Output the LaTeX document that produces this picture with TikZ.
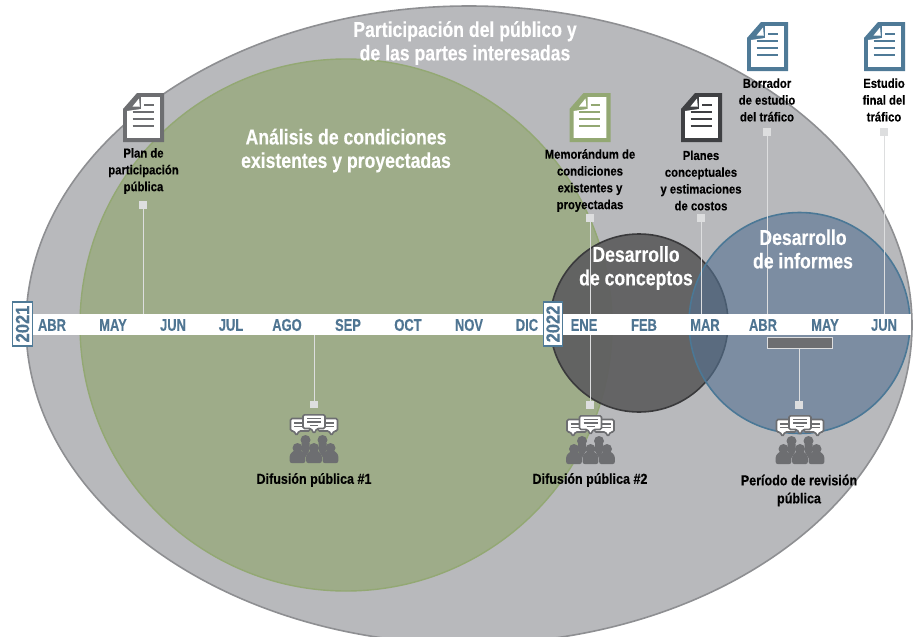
\documentclass[tikz,border=0pt]{standalone}
\usepackage{fontspec}
\setmainfont{Liberation Sans}
\newfontfamily\lblfont[FakeStretch=0.87,FakeBold=0.25]{Liberation Sans Bold}
\newfontfamily\headfont[FakeStretch=0.82,FakeBold=0.25]{Liberation Sans Bold}
\newfontfamily\monfont[FakeStretch=0.76,FakeBold=0.25]{Liberation Sans Bold}
\definecolor{ellgrey}{HTML}{B8B9BC}
\definecolor{elledge}{HTML}{8E8F92}
\definecolor{grn}{HTML}{93A873}
\definecolor{grnfill}{HTML}{8FA56A}
\definecolor{darkc}{HTML}{5F5F60}
\definecolor{darkedge}{HTML}{3A3A3C}
\definecolor{bluec}{HTML}{547191}
\definecolor{blueedge}{HTML}{4B7896}
\definecolor{icoblue}{HTML}{4F7A97}
\definecolor{icogrey}{HTML}{6D6E71}
\definecolor{icoblack}{HTML}{3F4043}
\definecolor{sq}{HTML}{DDDEDF}
\definecolor{monthc}{HTML}{4F7592}
\tikzset{
  lbl/.style={font=\lblfont\fontsize{13}{16.8}\selectfont,text=black,align=center,inner sep=0pt},
  lblbig/.style={font=\lblfont\fontsize{14.4}{18}\selectfont,text=black,align=center,inner sep=0pt},
  head/.style={font=\headfont\fontsize{21.5}{23.5}\selectfont,text=white,align=center,inner sep=0pt},
  month/.style={font=\monfont\fontsize{17}{17}\selectfont,text=monthc,inner sep=0pt,anchor=center},
  yearbox/.style={draw=icoblue,line width=1.4pt,fill=white,minimum width=44pt,minimum height=19.5pt,inner sep=0pt,rotate=90,font=\lblfont\fontsize{19}{19}\selectfont,text=monthc},
  sqnode/.style={fill=sq,minimum width=7.5pt,minimum height=7.5pt,inner sep=0pt},
  conn/.style={draw=sq,line width=1pt},
  pics/docicon/.style={code={
    \fill[#1] (0,16) -- (14,0) -- (41,0) -- (41,49) -- (0,49) -- cycle;
    \fill[white] (18,4.2) -- (36.8,4.2) -- (36.8,44.8) -- (4.2,44.8) -- (4.2,18) -- (18,16) -- cycle;
    \fill[white] (9.5,13.5) -- (16,5.5) -- (16.8,13.5) -- cycle;
    \draw[#1,line width=2.8pt] (21,12) -- (30.5,12) (9.7,19) -- (30.5,19) (9.7,26) -- (30.5,26) (9.7,33) -- (30.5,33);
  }},
  pics/crowd/.style={code={
    \tikzset{bub/.style={fill=white,draw=icogrey,line width=1.6pt,rounded corners=1.4pt}}
    \path[bub] (0.5,4.5) -- (20,4.5) -- (20,17) -- (9,17) -- (6.5,21.5) -- (4,17) -- (0.5,17) -- cycle;
    \path[bub] (47.5,4.5) -- (28,4.5) -- (28,17) -- (39,17) -- (41.5,21.5) -- (44,17) -- (47.5,17) -- cycle;
    \draw[icogrey,line width=1.1pt] (4,9) -- (13,9) (4,12.5) -- (13,12.5) (35,9) -- (44,9) (35,12.5) -- (44,12.5);
    \path[bub] (13,0.8) -- (35,0.8) -- (35,14.5) -- (27,14.5) -- (24,19.5) -- (21,14.5) -- (13,14.5) -- cycle;
    \draw[icogrey,line width=1.2pt] (17,4.8) -- (31,4.8) (17,8) -- (31,8) (20,11.2) -- (28,11.2);
    \fill[icogrey] (15.5,26) circle (5) (32.5,26) circle (5);
    \fill[icogrey] (11.5,29) -- (19.5,29) -- (19.5,36) -- (15.5,43) -- (11.5,36) -- cycle;
    \fill[icogrey] (28.5,29) -- (36.5,29) -- (36.5,36) -- (32.5,43) -- (28.5,36) -- cycle;
    \foreach \cx in {7.5,24,40.5}{
      \fill[icogrey] (\cx,34) circle (5);
      \fill[icogrey,rounded corners=2pt] (\cx-7.8,49) -- (\cx-7.8,44.5) .. controls (\cx-7.8,39.5) and (\cx-4,36.5) .. (\cx,36.5) .. controls (\cx+4,36.5) and (\cx+7.8,39.5) .. (\cx+7.8,44.5) -- (\cx+7.8,49) -- cycle;
    }
  }},
}
\begin{document}
\begin{tikzpicture}[x=1pt,y=-1pt]
\useasboundingbox (0,0) rectangle (916,637);
\clip (0,0) rectangle (916,637);
% big shapes
\filldraw[fill=ellgrey,draw=elledge,line width=1.6pt] (469,325) ellipse [x radius=443,y radius=319];
\fill[grnfill,opacity=.62] (346,325) circle (266);
\draw[grn,line width=1.4pt] (346,325) circle (266);
\fill[darkc,opacity=.94] (639,323) circle (89);
\draw[darkedge,line width=1.6pt] (639,323) circle (89);
\fill[bluec,opacity=.6] (799.5,323) circle (110.5);
\draw[blueedge,line width=1.6pt] (799.5,323) circle (110.5);
% band
\fill[white] (33,313.5) rectangle (911,335);
\foreach \m/\xx/\nm in {ABR/52/a,MAY/113/b,JUN/173/c,JUL/231/d,AGO/287/e,SEP/348/f,OCT/408/g,NOV/469/h,DIC/527/i,ENE/584/j,FEB/644/k,MAR/705/l,ABR/763/m,MAY/825/n,JUN/884/o}{
  \node[month] (m\nm) at (\xx,325) {\m};
}
\node[yearbox] (y21) at (22.5,324) {2021};
\node[yearbox] (y22) at (553,324) {2022};
% connector ends on the band
\coordinate (b1) at (143,313.5);
\coordinate (b2) at (314,335);
\coordinate (b3) at (590,313.5);
\coordinate (b3b) at (590,335);
\coordinate (b4) at (701,313.5);
\coordinate (b5) at (767,313.5);
\coordinate (b6) at (884,313.5);
% review bar
\node[fill=icogrey,draw=sq,line width=1pt,minimum width=65pt,minimum height=11pt,inner sep=0pt] (bar) at (799.5,342.5) {};
% squares
\node[sqnode] (s1) at (143,205) {};
\node[sqnode] (s2) at (314,404.5) {};
\node[sqnode] (s3) at (590,218) {};
\node[sqnode] (s3b) at (590,405) {};
\node[sqnode] (s4) at (701,218) {};
\node[sqnode] (s5) at (767,132) {};
\node[sqnode] (s6) at (884,132) {};
\node[sqnode] (s7) at (799,405) {};
\draw[conn] (s1) -- (b1);
\draw[conn] (s2) -- (b2);
\draw[conn] (s3) -- (b3);
\draw[conn] (s3b) -- (b3b);
\draw[conn] (s4) -- (b4);
\draw[conn] (s5) -- (b5);
\draw[conn] (s6) -- (b6);
\draw[conn] (s7) -- (s7 |- bar.south);
% icons
\pic at (123,93) {docicon=icogrey};
\pic at (569.5,93) {docicon=grn};
\pic at (681,93) {docicon=icoblack};
\pic at (747,22) {docicon=icoblue};
\pic at (864,22) {docicon=icoblue};
\pic at (290,414) {crowd};
\pic at (566.5,415) {crowd};
\pic at (776,415) {crowd};
% labels
\node[head] (t1) at (465,43) {Participación del público y\\de las partes interesadas};
\node[head] (t2) at (346,150.5) {Análisis de condiciones\\existentes y proyectadas};
\node[head] (t3) at (636,268) {Desarrollo\\de conceptos};
\node[head] (t4) at (803,249) {Desarrollo\\de informes};
\node[lbl] (l1) at (143.5,171) {Plan de\\participación\\pública};
\node[lbl] (l2) at (590,180.5) {Memorándum de\\condiciones\\existentes y\\proyectadas};
\node[lbl] (l3) at (701,180.5) {Planes\\conceptuales\\y estimaciones\\de costos};
\node[lbl] (l4) at (767,100) {Borrador\\de estudio\\del tráfico};
\node[lbl] (l5) at (884,100) {Estudio\\final del\\tráfico};
\node[lblbig] (l6) at (314,480) {Difusión pública \#1};
\node[lblbig] (l7) at (590,480) {Difusión pública \#2};
\node[lblbig] (l8) at (799,490.5) {Período de revisión\\pública};
\end{tikzpicture}
\end{document}
